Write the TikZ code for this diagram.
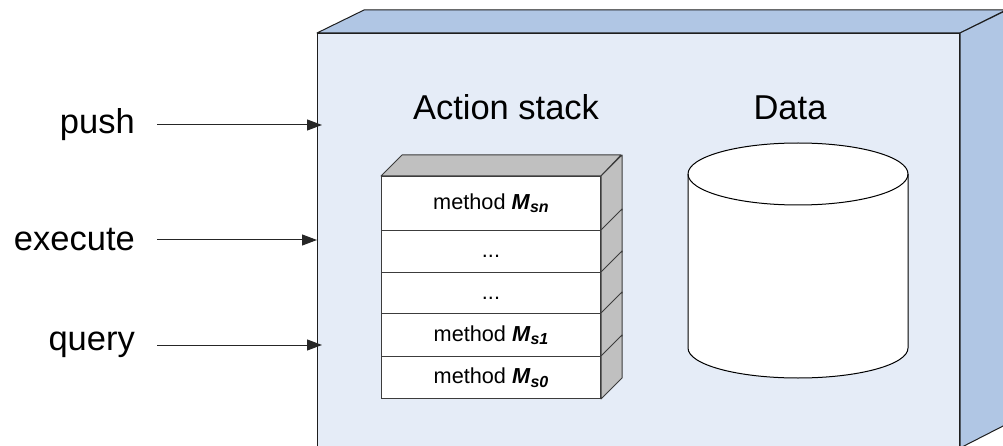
\documentclass[tikz,border=0pt]{standalone}
\usepackage{fontspec}
\setmainfont{Liberation Sans}
\usetikzlibrary{arrows.meta}

\definecolor{facefront}{RGB}{229,236,247}
\definecolor{faceside}{RGB}{176,198,228}
\definecolor{boxedge}{RGB}{30,30,30}
\definecolor{stackgrey}{RGB}{192,192,192}
\definecolor{stackedge}{RGB}{60,60,60}

\tikzset{
  bigface/.style={draw=boxedge, line width=1pt},
  stackrow/.style={draw=stackedge, fill=white, line width=1pt, inner sep=0pt,
    minimum width=219pt, anchor=north west, text height=15.5pt, text depth=3.5pt,
    font=\fontsize{21.7}{25}\selectfont},
  stackside/.style={draw=stackedge, fill=stackgrey, line width=1pt, line join=round},
  iolabel/.style={anchor=east, inner sep=0pt, font=\fontsize{34.5}{40}\selectfont},
  title/.style={anchor=base, inner sep=0pt, font=\fontsize{34.5}{40}\selectfont},
  inarrow/.style={draw=black!85, line width=1pt, -{Triangle[length=15pt,width=11pt]}},
}
% method name: bold italic M with a lowered bold italic index
\newcommand{\Msub}[1]{\textbf{\textit{M}}\raisebox{-3.5pt}{\fontsize{16}{16}\selectfont\bfseries\itshape #1}}

\begin{document}
\begin{tikzpicture}[x=1pt,y=-1pt]
\useasboundingbox (0,0) rectangle (1003,446);
\clip (0,0) rectangle (1003,446);

% component block: front, top and right faces
\node[bigface, fill=facefront, minimum width=642pt, minimum height=414pt,
      anchor=north west, inner sep=0pt] (front) at (317,33) {};
\filldraw[bigface, fill=faceside, line join=round]
  (front.north west) -- ++(47,-23) -- ++(642,0) -- (front.north east) -- cycle;
\filldraw[bigface, fill=faceside, line join=round]
  (front.north east) -- ++(47,-23) -- ++(0,414) -- (front.south east) -- cycle;

% interface labels and their arrows
\node[iolabel] (lpush) at (135,125) {push};
\node[iolabel] (lexec) at (135,240) {execute};
\node[iolabel] (lquery) at (135,345) {query};
\draw[inarrow, shorten >=-5pt] ([xshift=22pt]lpush.east) -- (lpush.east -| front.west);
\draw[inarrow] ([xshift=22pt]lexec.east) -- (lexec.east -| front.west);
\draw[inarrow, shorten >=-5pt] ([xshift=22pt]lquery.east) -- (lquery.east -| front.west);

% headings
\node[title] (tstack) at (506,120) {Action stack};
\node[title] (tdata) at (790,120) {Data};

% action stack
\node[stackrow, minimum height=54pt] (r1) at (381,176) {method \Msub{sn}};
\node[stackrow, minimum height=42pt] (r2) at (381,230) {...};
\node[stackrow, minimum height=41pt] (r3) at (381,272) {...};
\node[stackrow, minimum height=43pt] (r4) at (381,313) {method \Msub{s1}};
\node[stackrow, minimum height=42pt] (r5) at (381,356) {method \Msub{s0}};
\filldraw[stackside] (r1.north west) -- ++(21,-21) -- ++(219,0) -- (r1.north east) -- cycle;
\foreach \r in {r1,r2,r3,r4,r5}{
  \filldraw[stackside] (\r.north east) -- ++(21,-21)
    -- ([xshift=21pt,yshift=21pt]\r.south east) -- (\r.south east) -- cycle;
}

% data store cylinder
\filldraw[fill=white, draw=black, line width=1pt]
  (688,174) -- (688,348) arc[start angle=180, end angle=360, x radius=110pt, y radius=30pt]
  -- (908,174) arc[start angle=0, end angle=180, x radius=110pt, y radius=31pt] -- cycle;
\draw[black, line width=1pt]
  (688,174) arc[start angle=180, end angle=360, x radius=110pt, y radius=31pt];
\coordinate (datastore) at (798,262);
\end{tikzpicture}
\end{document}
